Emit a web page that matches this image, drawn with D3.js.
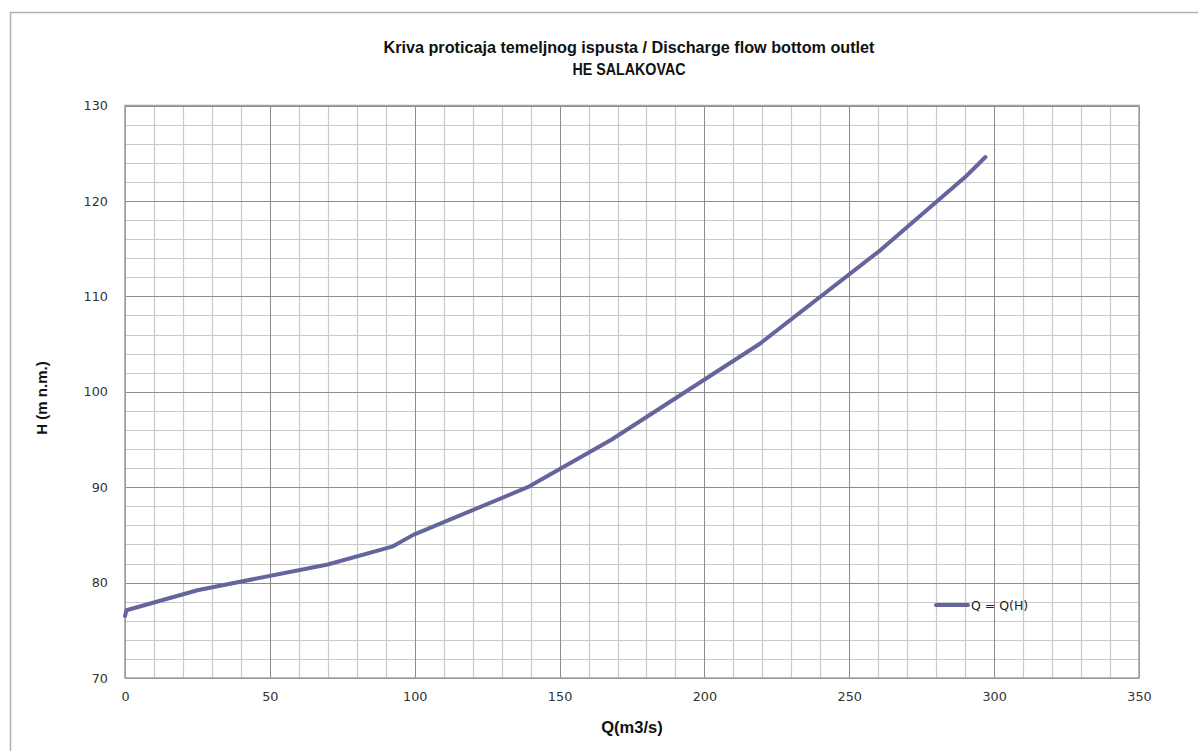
<!DOCTYPE html>
<html><head><meta charset="utf-8">
<script src="https://cdn.jsdelivr.net/npm/d3@7"></script>
<style>body{margin:0;background:#fff}svg{display:block}</style>
</head><body>
<svg id="c" width="1198" height="751"></svg>
<script>
const flowQ = [0, 0.5, 25, 70, 92.5, 99.5, 139, 168, 219, 261, 290, 297];
const headH = [76.5, 77.1, 79.2, 81.9, 83.8, 85, 90, 95, 105, 114.9, 122.5, 124.6];
const xTicks = [0, 50, 100, 150, 200, 250, 300, 350];
const yTicks = [70, 80, 90, 100, 110, 120, 130];
const titleLines = ["Kriva proticaja temeljnog ispusta / Discharge flow bottom outlet", "HE SALAKOVAC"];
const seriesName = "Q = Q(H)";

const svg = d3.select("#c");
const L = 125, R = 1139, T = 105.5, B = 678;
const x = d3.scaleLinear().domain([0, 350]).range([L, R]);
const y = d3.scaleLinear().domain([70, 130]).range([B, T]);

svg.append("rect").attr("x", 10.5).attr("y", 12.5).attr("width", 1200).attr("height", 760)
  .attr("fill", "#fff").attr("stroke", "#b0b0b0").attr("stroke-width", 1.5);

const g = svg.append("g");
d3.range(0, 351, 10).forEach(v => {
  if (v % 50 !== 0) g.append("line").attr("x1", Math.round(x(v)) + 0.5).attr("x2", Math.round(x(v)) + 0.5)
    .attr("y1", T).attr("y2", B).attr("stroke", "#c9c9c9").attr("stroke-width", 1.2);
});
d3.range(70, 131, 2).forEach(v => {
  if (v % 10 !== 0) g.append("line").attr("y1", Math.round(y(v)) + 0.5).attr("y2", Math.round(y(v)) + 0.5)
    .attr("x1", L).attr("x2", R).attr("stroke", "#c9c9c9").attr("stroke-width", 1.2);
});
xTicks.forEach(v => g.append("line").attr("x1", Math.round(x(v)) + 0.5).attr("x2", Math.round(x(v)) + 0.5)
  .attr("y1", T).attr("y2", B).attr("stroke", "#8c8c8c").attr("stroke-width", 1));
yTicks.forEach(v => g.append("line").attr("y1", Math.round(y(v)) + 0.5).attr("y2", Math.round(y(v)) + 0.5)
  .attr("x1", L).attr("x2", R).attr("stroke", "#8c8c8c").attr("stroke-width", 1));
svg.append("rect").attr("x", L).attr("y", T).attr("width", R - L).attr("height", B - T)
  .attr("fill", "none").attr("stroke", "#a0a0a0").attr("stroke-width", 1.5);

const xAxis = svg.append("g").attr("transform", `translate(0,${B})`)
  .call(d3.axisBottom(x).tickValues(xTicks).tickSize(0).tickPadding(14));
const yAxis = svg.append("g").attr("transform", `translate(${L},0)`)
  .call(d3.axisLeft(y).tickValues(yTicks).tickSize(0).tickPadding(17));
[xAxis, yAxis].forEach(a => {
  a.select(".domain").remove();
  a.selectAll("text").attr("font-family", "DejaVu Sans, Verdana, sans-serif").attr("font-size", 12.8).attr("fill", "#333");
});

const line = d3.line().x((d, i) => x(flowQ[i])).y((d, i) => y(headH[i]));
svg.append("path").datum(flowQ).attr("d", line).attr("fill", "none")
  .attr("stroke", "#65659d").attr("stroke-width", 4).attr("stroke-linejoin", "round").attr("stroke-linecap", "round");

svg.append("line").attr("x1", 936).attr("x2", 968).attr("y1", 605).attr("y2", 605)
  .attr("stroke", "#65659d").attr("stroke-width", 4).attr("stroke-linecap", "round");
svg.append("text").attr("x", 971).attr("y", 609.5).text(seriesName)
  .attr("font-family", "DejaVu Sans, Verdana, sans-serif").attr("font-size", 12.5).attr("fill", "#222");

titleLines.forEach((t, i) => svg.append("text").attr("x", 629).attr("y", 53 + i * 22).attr("text-anchor", "middle")
  .attr("font-family", "Liberation Sans, Arial, sans-serif").attr("font-weight", "bold").attr("font-size", 16)
  .attr("fill", "#111").attr("textLength", i === 0 ? 491 : 113).attr("lengthAdjust", "spacingAndGlyphs").text(t));
svg.append("text").attr("x", 632).attr("y", 733).attr("text-anchor", "middle")
  .attr("font-family", "Liberation Sans, Arial, sans-serif").attr("font-weight", "bold").attr("font-size", 16.5)
  .attr("fill", "#111").text("Q(m3/s)");
svg.append("text").attr("transform", "translate(42,398) rotate(-90)").attr("text-anchor", "middle")
  .attr("dy", "0.35em")
  .attr("font-family", "Liberation Sans, Arial, sans-serif").attr("font-weight", "bold").attr("font-size", 15)
  .attr("fill", "#111").text("H (m n.m.)");
</script>
</body></html>
